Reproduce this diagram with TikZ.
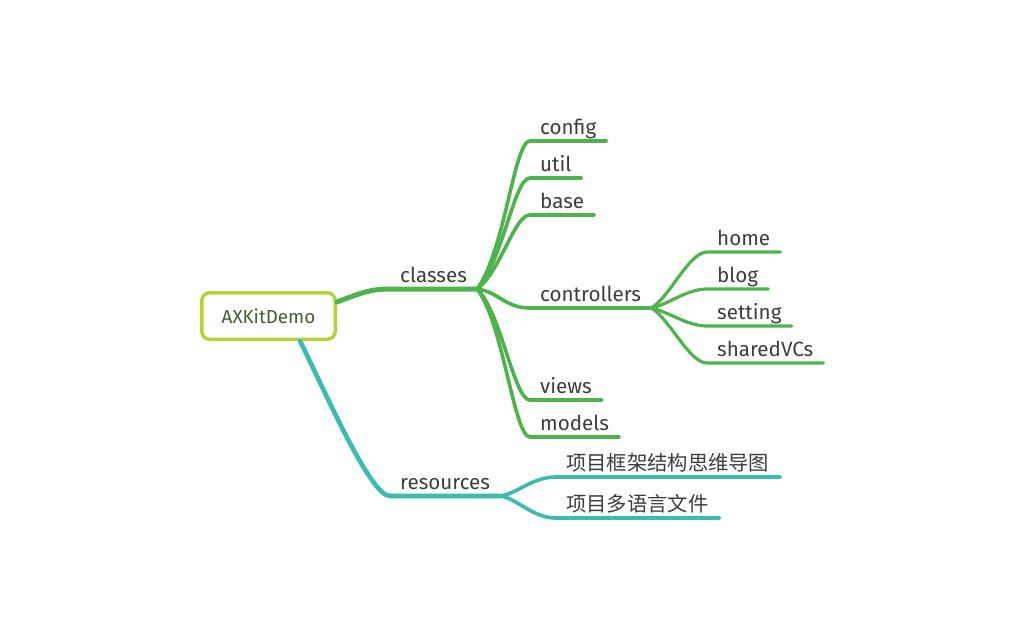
\documentclass[tikz,border=0pt]{standalone}
\usepackage{fontspec}
\setmainfont{Fira Sans}
\newfontfamily\cjk{Noto Sans CJK SC}
\usetikzlibrary{calc}
\definecolor{grn}{HTML}{4DB34D}
\definecolor{tealb}{HTML}{3BBCB0}
\definecolor{limeb}{HTML}{B5D335}
\definecolor{roottxt}{HTML}{4A5A30}
\definecolor{txt}{HTML}{3D3D3D}
\begin{document}
\begin{tikzpicture}[x=1pt,y=-1pt,
  lbl/.style={anchor=south west, inner xsep=10pt, inner ysep=6pt, text depth=0pt, text=txt, font=\fontsize{20.6}{20.6}\selectfont},
  cjklbl/.style={lbl, font=\cjk\fontsize{20.3}{20.3}\selectfont, inner xsep=11pt},
  br/.style={line width=3.6pt, line cap=round, line join=round},
  mainbr/.style={line width=5pt, line cap=round, line join=round},
  rootbox/.style={draw=limeb, line width=3.5pt, rounded corners=8pt, fill=white, minimum width=133.5pt, minimum height=46.5pt, text=roottxt, font=\fontsize{18.8}{18.8}\selectfont}]
\useasboundingbox[fill=white] (0,0) rectangle (1024,633);

\node[rootbox] (root) at (268.5,316) {AXKitDemo};

% level 1
\node[lbl] (classes) at (390,289) {classes};
\node[lbl] (resources) at (390,496) {resources};

% level 2 under classes
\node[lbl] (config) at (530,141) {config};
\node[lbl] (util) at (530,178) {util};
\node[lbl] (base) at (530,215) {base};
\node[lbl] (controllers) at (530,308) {controllers};
\node[lbl] (views) at (530,400) {views};
\node[lbl] (models) at (530,437) {models};

% level 3 under controllers
\node[lbl] (home) at (707,252) {home};
\node[lbl] (blog) at (707,289) {blog};
\node[lbl] (setting) at (707,326) {setting};
\node[lbl] (shared) at (707,363) {sharedVCs};

% under resources
\node[cjklbl] (mindmap) at (555,477) {项目框架结构思维导图};
\node[cjklbl] (lang) at (555,518) {项目多语言文件};

% connectors: root -> classes
\draw[mainbr, grn] ([yshift=14pt]root.east) .. controls +(24,-9) and +(-20,0) .. (classes.south west) -- (classes.south east);
% root -> resources
\draw[mainbr, tealb, line width=4.6pt] ([xshift=31.5pt]root.south) .. controls +(25,50) and +(-20,0) .. (resources.south west) -- (resources.south east);

% classes -> children
\coordinate (hubA) at (classes.south east);
\draw[br, grn] (hubA) .. controls +(28,-38) and +(-16,0) .. (config.south west) -- (config.south east);
\draw[br, grn] (hubA) .. controls +(26,-28) and +(-16,0) .. (util.south west) -- (util.south east);
\draw[br, grn] (hubA) .. controls +(24,-18) and +(-16,0) .. (base.south west) -- (base.south east);
\draw[br, grn] (hubA) .. controls +(22,3) and +(-25,0) .. (controllers.south west) -- (controllers.south east);
\draw[br, grn] (hubA) .. controls +(24,23) and +(-16,0) .. (views.south west) -- (views.south east);
\draw[br, grn] (hubA) .. controls +(26,33) and +(-16,0) .. (models.south west) -- (models.south east);

% controllers -> children
\coordinate (hubB) at (controllers.south east);
\draw[br, grn, line width=3.2pt] (hubB) .. controls +(18,-10) and +(-18,0) .. (home.south west) -- (home.south east);
\draw[br, grn, line width=3.2pt] (hubB) .. controls +(18,-4) and +(-20,0) .. (blog.south west) -- (blog.south east);
\draw[br, grn, line width=3.2pt] (hubB) .. controls +(18,4) and +(-20,0) .. (setting.south west) -- (setting.south east);
\draw[br, grn, line width=3.2pt] (hubB) .. controls +(18,10) and +(-18,0) .. (shared.south west) -- (shared.south east);

% resources -> children
\coordinate (hubC) at (resources.south east);
\draw[br, tealb] (hubC) .. controls +(16,-2) and +(-22,0) .. (mindmap.south west) -- (mindmap.south east);
\draw[br, tealb] (hubC) .. controls +(16,2) and +(-22,0) .. (lang.south west) -- (lang.south east);
\end{tikzpicture}
\end{document}
